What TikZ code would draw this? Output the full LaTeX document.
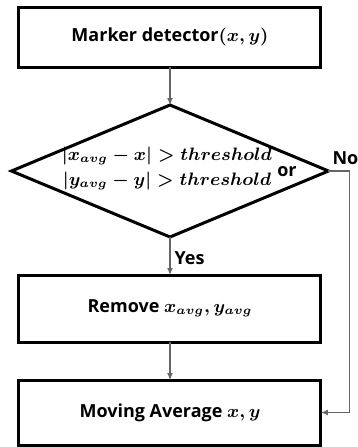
\documentclass[tikz,border=0pt]{standalone}
\usepackage{amsmath}
\usepackage{fontspec}
\setsansfont{Open Sans}[BoldFont={Open Sans Bold}]
\usetikzlibrary{arrows.meta,positioning,shapes.geometric}

\begin{document}
\begin{tikzpicture}[node distance = 19pt,inner sep=0pt,
  box/.style={draw=black,line width=1.5pt,outer sep=0pt,fill=white,minimum width=151pt,font=\sffamily\bfseries\fontsize{9}{11}\selectfont\boldmath},
  lbl/.style={font=\sffamily\bfseries\fontsize{9}{11}\selectfont},
  arr/.style={-{Latex[length=3.5pt,width=3pt]},draw=black!60,line width=0.6pt}]
\useasboundingbox (0,0) rectangle (179pt,-223.5pt);
\node[box,minimum height=30pt] (A) at (85pt,-18.5pt) {Marker detector$(x,y)$};
\node[diamond,draw=black,line width=1.5pt,outer sep=0pt,minimum width=158.5pt,minimum height=66pt] (B) [below=of A] {};
\node[font=\fontsize{9}{12.5}\selectfont\boldmath,align=center,xshift=-1.5pt,yshift=1.5pt] (T) at (B.center) {$|x_{avg}-x|>threshold$\\$|y_{avg}-y|>threshold$};
\node[lbl] (O) at ([xshift=58.5pt,yshift=-0.5pt]B.center) {or};
\node[box,minimum height=33.5pt] (C) [below=of B] {Remove $x_{avg},y_{avg}$};
\node[box,minimum height=32.5pt] (D) [below=of C] {Moving Average $x,y$};

\path (A) edge [arr] (B);
\path (B) edge [arr] node[lbl,pos=0.55,right,inner sep=2pt] {Yes} (C);
\path (C) edge [arr] (D);
\draw[arr] (B.east) -- ++(10.5pt,0) node[lbl,above,xshift=-2pt,inner sep=3pt] {No} |- (D.east);
\end{tikzpicture}
\end{document}
